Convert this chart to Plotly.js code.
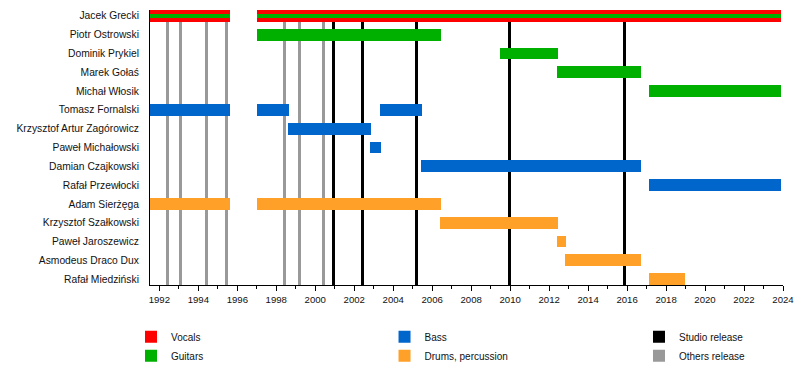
<!DOCTYPE html>
<html>
<head>
<meta charset="utf-8">
<script src="https://cdn.plot.ly/plotly-3.0.1.min.js"></script>
<style>html,body{margin:0;padding:0;background:#fff}#chart{width:800px;height:380px}</style>
</head>
<body>
<div id="chart"></div>
<script>
// ---- data ----
const members = ["Jacek Grecki","Piotr Ostrowski","Dominik Prykiel","Marek Gołaś","Michał Włosik",
  "Tomasz Fornalski","Krzysztof Artur Zagórowicz","Paweł Michałowski","Damian Czajkowski","Rafał Przewłocki",
  "Adam Sierżęga","Krzysztof Szałkowski","Paweł Jaroszewicz","Asmodeus Draco Dux","Rafał Miedziński"];

const vocalsMember = ["Jacek Grecki","Jacek Grecki"];
const vocalsStart  = [1991.52, 1997.01];
const vocalsEnd    = [1995.63, 2023.9];

const guitarsMember = ["Jacek Grecki","Jacek Grecki","Piotr Ostrowski","Dominik Prykiel","Marek Gołaś","Michał Włosik"];
const guitarsStart  = [1991.52, 1997.01, 1997.01, 2009.47, 2012.39, 2017.11];
const guitarsEnd    = [1995.63, 2023.9, 2006.45, 2012.44, 2016.7, 2023.9];

const bassMember = ["Tomasz Fornalski","Tomasz Fornalski","Tomasz Fornalski","Krzysztof Artur Zagórowicz","Paweł Michałowski","Damian Czajkowski","Rafał Przewłocki"];
const bassStart  = [1991.52, 1997.01, 2003.32, 1998.6, 2002.81, 2005.42, 2017.11];
const bassEnd    = [1995.63, 1998.65, 2005.47, 2002.86, 2003.35, 2016.7, 2023.9];

const drumsMember = ["Adam Sierżęga","Adam Sierżęga","Krzysztof Szałkowski","Paweł Jaroszewicz","Asmodeus Draco Dux","Rafał Miedziński"];
const drumsStart  = [1991.52, 1997.01, 2006.4, 2012.39, 2012.81, 2017.11];
const drumsEnd    = [1995.63, 2006.45, 2012.44, 2012.86, 2016.7, 2018.96];

const studioReleases = [2000.92, 2002.41, 2005.18, 2009.98, 2015.87];
const otherReleases  = [1992.41, 1993.08, 1994.41, 1995.44, 1998.41, 1999.18, 2000.41];

const xTickVals = [1992,1994,1996,1998,2000,2002,2004,2006,2008,2010,2012,2014,2016,2018,2020,2022,2024];
const xTickText = xTickVals.map(String);

// ---- build ----
const ROW_W = 0.625, STRIPE_W = 0.21;
const yTop = -ROW_W/2, ySpan = (members.length - 1) + ROW_W;

function roleTrace(name, color, who, s, e, legend, stripeFor) {
  return {
    type: 'bar', orientation: 'h', name: name, legend: legend,
    y: who.map(m => members.indexOf(m)),
    base: s,
    x: s.map((v, i) => e[i] - v),
    width: who.map(m => (stripeFor && m === stripeFor) ? STRIPE_W : ROW_W),
    marker: {color: color, line: {width: 0}},
    hoverinfo: 'skip'
  };
}
function releaseTrace(name, color, years, legend) {
  return {
    type: 'bar', orientation: 'v', name: name, legend: legend,
    x: years, base: years.map(() => yTop), y: years.map(() => ySpan),
    width: years.map(() => 0.14),
    marker: {color: color, line: {width: 0}},
    hoverinfo: 'skip'
  };
}

const traces = [
  releaseTrace('Others release', '#999999', otherReleases, 'legend3'),
  releaseTrace('Studio release', '#000000', studioReleases, 'legend3'),
  roleTrace('Vocals', '#ff0000', vocalsMember, vocalsStart, vocalsEnd, 'legend'),
  roleTrace('Guitars', '#00b000', guitarsMember, guitarsStart, guitarsEnd, 'legend', 'Jacek Grecki'),
  roleTrace('Bass', '#0066cc', bassMember, bassStart, bassEnd, 'legend2'),
  roleTrace('Drums, percussion', '#ffa028', drumsMember, drumsStart, drumsEnd, 'legend2')
];

const legFont = {family: 'Liberation Sans, Arial, sans-serif', size: 10, color: '#111'};
function leg(x) {
  return {x: x, xanchor: 'left', y: -0.135, yanchor: 'top', orientation: 'v',
    traceorder: 'normal', font: legFont, bgcolor: 'rgba(0,0,0,0)', borderwidth: 0, tracegroupgap: 0};
}
const l3 = leg(0.7725); l3.traceorder = 'reversed';

const layout = {
  width: 800, height: 380,
  margin: {l: 150, r: 17, t: 10, b: 90, pad: 0},
  paper_bgcolor: '#fff', plot_bgcolor: '#fff',
  barmode: 'overlay', bargap: 0,
  font: {family: 'Liberation Sans, Arial, sans-serif', size: 10, color: '#111'},
  showlegend: true,
  legend: leg(-0.03),
  legend2: leg(0.3705),
  legend3: l3,
  xaxis: {
    range: [1991.52, 2024], showgrid: false, zeroline: false,
    showline: true, linecolor: '#000', linewidth: 1,
    tickmode: 'array', tickvals: xTickVals, ticktext: xTickText,
    ticks: 'outside', ticklen: 5, tickcolor: '#000', tickwidth: 1,
    tickfont: {size: 9.6, color: '#111'},
    minor: {tickmode: 'linear', tick0: 1991, dtick: 1, ticks: 'outside', ticklen: 3, tickcolor: '#000', showgrid: false}
  },
  yaxis: {
    range: [yTop + ySpan, yTop], showgrid: false, zeroline: false,
    showline: true, linecolor: '#000', linewidth: 1,
    tickmode: 'array', tickvals: members.map((m, i) => i), ticktext: members,
    ticks: '', ticklabelstandoff: 8,
    tickfont: {size: 10.3, color: '#111'}
  }
};

Plotly.newPlot('chart', traces, layout, {displayModeBar: false, staticPlot: true});
</script>
</body>
</html>
